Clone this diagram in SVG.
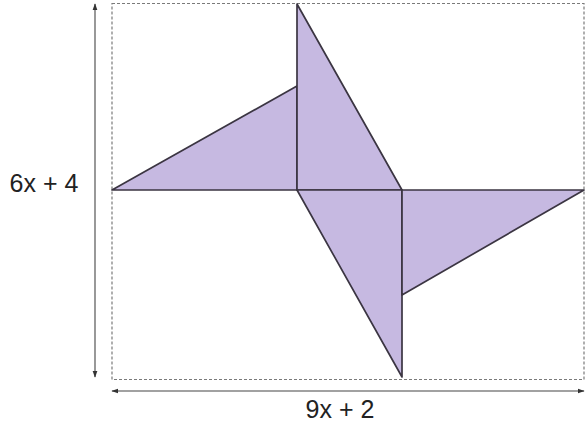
<svg xmlns="http://www.w3.org/2000/svg" width="585" height="425" viewBox="0 0 585 425">
<style>
.shape{fill:#c6b9e1;stroke:#3b3542;stroke-width:1.7;stroke-linejoin:round}
.dash{fill:none;stroke:#7a7a7a;stroke-width:1.2;stroke-dasharray:3 2}
.dim{stroke:#444;stroke-width:1.1;fill:none}
.lbl{font-family:"Liberation Sans",Arial,sans-serif;font-size:25px;fill:#222}
</style>
<defs>
<marker id="ah" viewBox="0 0 10 10" refX="9" refY="5" markerWidth="7" markerHeight="7" orient="auto-start-reverse" markerUnits="userSpaceOnUse">
<path d="M0,1.5 L10,5 L0,8.5 Z" fill="#333"/>
</marker>
</defs>
<rect class="dash" x="112" y="3.5" width="472" height="376"/>
<g id="left-triangle"><polygon class="shape" points="112,190 297,86 297,190"/></g>
<g id="top-triangle"><polygon class="shape" points="297,4 402,190 297,190"/></g>
<g id="bottom-triangle"><polygon class="shape" points="297,190 402,190 402,377"/></g>
<g id="right-triangle"><polygon class="shape" points="402,190 584,190 402,295"/></g>
<g id="connectors">
<line class="dim" x1="95" y1="4" x2="95" y2="377" marker-start="url(#ah)" marker-end="url(#ah)"/>
<line class="dim" x1="112" y1="391" x2="584" y2="391" marker-start="url(#ah)" marker-end="url(#ah)"/>
</g>
<text class="lbl" x="44" y="192" text-anchor="middle">6x + 4</text>
<text class="lbl" x="340" y="418" text-anchor="middle">9x + 2</text>
</svg>
